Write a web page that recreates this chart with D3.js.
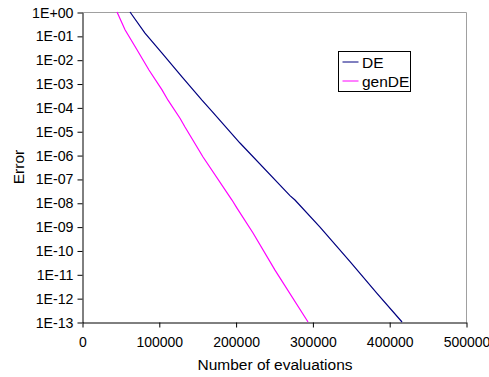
<!DOCTYPE html>
<html>
<head>
<meta charset="utf-8">
<script src="https://cdn.jsdelivr.net/npm/d3@7"></script>
<style>
  body { margin: 0; background: #fff; }
  text { font-family: "Liberation Sans", Arial, sans-serif; }
</style>
</head>
<body>
<div id="chart"></div>
<script>
// values
var seriesNames = ["DE", "genDE"];
var deEvals = [62500, 82000, 104200, 130200, 156200, 169300, 205700, 270800, 277300, 309900, 349000, 384100, 416700];
var deError = [1, 0.13, 0.019, 0.0019, 2.0e-4, 6.8e-5, 3.2e-6, 2.0e-8, 1.3e-8, 9.5e-10, 3.4e-11, 1.6e-12, 1e-13];
var genEvals = [45600, 56000, 71600, 87200, 104200, 112000, 127600, 134100, 157600, 195300, 201800, 222700, 251300, 294300];
var genError = [1, 0.18, 0.026, 3.7e-3, 5.4e-4, 2.0e-4, 3.5e-5, 1.5e-5, 8.3e-7, 1.3e-8, 6.0e-9, 5.4e-10, 1.5e-11, 1e-13];
var xTicks = [0, 100000, 200000, 300000, 400000, 500000];
var yTicks = [1, 1e-1, 1e-2, 1e-3, 1e-4, 1e-5, 1e-6, 1e-7, 1e-8, 1e-9, 1e-10, 1e-11, 1e-12, 1e-13];

function draw_chart(wrapper)
{
  var margin = {top: 12, right: 23, bottom: 55, left: 82},
      width = 489,
      height = 377;
  var svg = d3.select(wrapper).append("svg")
      .attr("width", width).attr("height", height);

  const xScale = d3.scaleLinear()
      .domain([0, 500000])
      .range([margin.left, width - margin.right]);
  const yScale = d3.scaleLog()
      .domain([1e-13, 1])
      .range([height - margin.bottom, margin.top]);

  // grey frame on top and right
  svg.append("path")
    .attr("d", `M${xScale(0)},${yScale(1) + 0.5}H${xScale(500000) + 0.5}V${yScale(1e-13)}`)
    .attr("fill", "none")
    .attr("stroke", "#a0a0a0");

  const expLabel = d => {
    var e = Math.round(Math.log10(d));
    return "1E" + (e < 0 ? "-" : "+") + String(Math.abs(e)).padStart(2, "0");
  };

  const yAxis = d3.axisLeft(yScale).tickValues(yTicks).tickFormat(expLabel)
      .tickSizeInner(5).tickSizeOuter(0).tickPadding(4);
  svg.append("g")
      .attr("transform", `translate(${margin.left + 0.5},0.5)`)
      .call(yAxis)
      .call(g => g.selectAll("text").style("font-size", "14.2px").attr("fill", "#000"));

  const xAxis = d3.axisBottom(xScale).tickValues(xTicks).tickFormat(d3.format("d"))
      .tickSizeInner(5).tickSizeOuter(0).tickPadding(10);
  svg.append("g")
      .attr("transform", `translate(0.5,${height - margin.bottom + 0.5})`)
      .call(xAxis)
      .call(g => g.selectAll("text").style("font-size", "14px").attr("fill", "#000"));

  svg.selectAll(".domain, .tick line").attr("stroke", "#000");

  svg.append("text")
    .attr("x", 275)
    .attr("y", 370)
    .attr("text-anchor", "middle")
    .style("font-size", "15.5px")
    .text("Number of evaluations");

  svg.append("text")
    .attr("transform", `translate(24,167) rotate(-90)`)
    .attr("text-anchor", "middle")
    .style("font-size", "15.5px")
    .text("Error");

  const line = d3.line().x(d => xScale(d[0])).y(d => yScale(d[1]));
  const series = [
    {name: seriesNames[0], color: "#000080", pts: d3.zip(deEvals, deError)},
    {name: seriesNames[1], color: "#ff00ff", pts: d3.zip(genEvals, genError)}
  ];

  svg.selectAll(".series")
    .data(series)
    .enter()
    .append("path")
    .attr("d", d => line(d.pts))
    .attr("fill", "none")
    .attr("stroke", d => d.color)
    .attr("stroke-width", 1.2);

  // legend
  var lg = svg.append("g").attr("transform", "translate(338.5,51.5)");
  lg.append("rect")
    .attr("width", 72).attr("height", 40)
    .attr("fill", "#fff").attr("stroke", "#000");
  series.forEach(function(s, i) {
    var y = 10.5 + i * 19;
    lg.append("line")
      .attr("x1", 4).attr("x2", 20).attr("y1", y).attr("y2", y)
      .attr("stroke", s.color);
    lg.append("text")
      .attr("x", 23.5).attr("y", y + 5.5)
      .style("font-size", "15.5px")
      .text(s.name);
  });
}

draw_chart("#chart");
</script>
</body>
</html>
